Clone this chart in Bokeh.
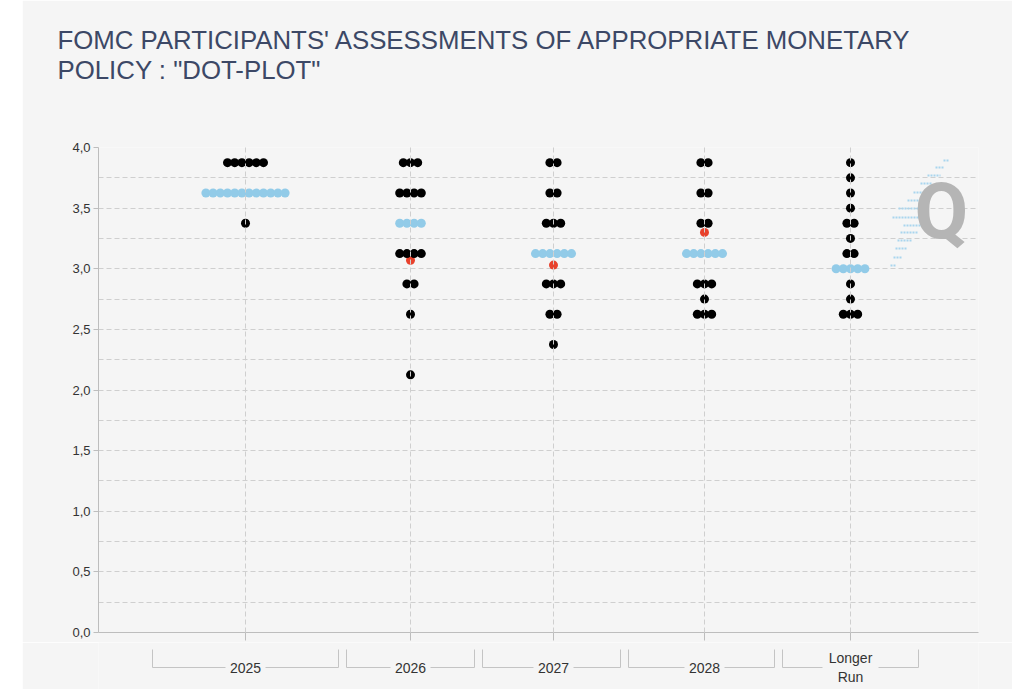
from bokeh.plotting import figure
from bokeh.models import Range1d, FixedTicker, Title, ColumnDataSource, Spacer, Label
from bokeh.layouts import column, row
from bokeh.embed import file_html
from bokeh.resources import INLINE
from bokeh.core.properties import value

# ---------------- data ----------------
categories = ["2025", "2026", "2027", "2028", "Longer\nRun"]

levels_2025 = [3.875, 3.625, 3.375]
counts_2025 = [6, 12, 1]
levels_2026 = [3.875, 3.625, 3.375, 3.125, 2.875, 2.625, 2.125]
counts_2026 = [3, 4, 4, 4, 2, 1, 1]
levels_2027 = [3.875, 3.625, 3.375, 3.125, 2.875, 2.625, 2.375]
counts_2027 = [2, 2, 3, 6, 3, 2, 1]
levels_2028 = [3.875, 3.625, 3.375, 3.125, 2.875, 2.75, 2.625]
counts_2028 = [2, 2, 2, 6, 3, 1, 3]
levels_lr = [3.875, 3.75, 3.625, 3.5, 3.375, 3.25, 3.125, 3.0, 2.875, 2.75, 2.625]
counts_lr = [1, 1, 1, 1, 2, 1, 2, 5, 1, 1, 3]

medians = [3.625, 3.375, 3.125, 3.125, 3.0]

market_index = [1, 2, 3]          # 2026, 2027, 2028
market_values = [3.07, 3.03, 3.30]

y_ticks = [0.0, 0.5, 1.0, 1.5, 2.0, 2.5, 3.0, 3.5, 4.0]
y_grid = [0.25, 0.5, 0.75, 1.0, 1.25, 1.5, 1.75, 2.0, 2.25, 2.5, 2.75,
          3.0, 3.25, 3.5, 3.75, 4.0]

title_line1 = "FOMC PARTICIPANTS' ASSESSMENTS OF APPROPRIATE MONETARY"
title_line2 = 'POLICY : "DOT-PLOT"'

# ---------------- layout / style ----------------
CAT_CENTER = [147, 312, 455, 606, 752]      # frame-pixel positions
BRACKET_LEFT = [54, 248, 384, 530, 684]
BRACKET_RIGHT = [240, 376, 522, 676, 820]
BRACKET_GAP = [20, 20, 20, 20, 28]
DOT_STEP = 7.2
BG = "#f5f5f5"
GRID = "#cfcfcf"
AXIS = "#bdbdbd"
FONT = "Liberation Sans"

all_levels = [levels_2025, levels_2026, levels_2027, levels_2028, levels_lr]
all_counts = [counts_2025, counts_2026, counts_2027, counts_2028, counts_lr]

dx, dy, dc = [], [], []
for i, (lv, ct) in enumerate(zip(all_levels, all_counts)):
    for level, n in zip(lv, ct):
        for k in range(n):
            dx.append(CAT_CENTER[i] + (k - (n - 1) / 2) * DOT_STEP)
            dy.append(level)
            dc.append("#92cbe8" if level == medians[i] else "#000000")
dots = ColumnDataSource(dict(x=dx, y=dy, c=dc))
market = ColumnDataSource(dict(x=[CAT_CENTER[i] for i in market_index], y=market_values))

FRAME_W = 880
p = figure(width=990, height=642, output_backend="svg", toolbar_location=None,
           x_range=Range1d(0, FRAME_W), y_range=Range1d(0, 4.0),
           min_border_left=76, min_border_right=34, min_border_top=147,
           min_border_bottom=10)
p.background_fill_color = BG
p.border_fill_color = BG
p.outline_line_color = None

# spacer between title and plot area
gap = Title(text=" ", text_font_size="1px", standoff=59)
title = Title(text=title_line1 + "\n" + title_line2, align="left", offset=-41,
              standoff=0, vertical_align="top", text_font=FONT,
              text_font_size="25.8px", text_font_style="normal",
              text_color="#3c4866", text_line_height=1.08)
p.add_layout(gap, "above")
p.add_layout(title, "above")

# y axis
p.yaxis.ticker = FixedTicker(ticks=y_ticks)
p.yaxis.major_label_overrides = {t: f"{t:.1f}".replace(".", ",") for t in y_ticks}
p.yaxis.axis_line_color = AXIS
p.yaxis.major_tick_line_color = AXIS
p.yaxis.major_tick_out = 5
p.yaxis.major_tick_in = 0
p.yaxis.minor_tick_line_color = None
p.yaxis.major_label_standoff = 3
p.yaxis.major_label_text_font = FONT
p.yaxis.major_label_text_font_size = "13px"
p.yaxis.major_label_text_color = "#333333"

# x axis (ticks only)
p.xaxis.ticker = FixedTicker(ticks=CAT_CENTER)
p.xaxis.major_label_overrides = {c: "" for c in CAT_CENTER}
p.xaxis.major_label_text_font_size = "0px"
p.xaxis.major_label_standoff = 0
p.xaxis.axis_line_color = AXIS
p.xaxis.major_tick_line_color = AXIS
p.xaxis.major_tick_out = 8
p.xaxis.major_tick_in = 0
p.xaxis.minor_tick_line_color = None

p.ygrid.ticker = FixedTicker(ticks=y_grid)
p.ygrid.grid_line_color = GRID
p.ygrid.grid_line_dash = "5 3"
p.xgrid.grid_line_color = GRID
p.xgrid.grid_line_dash = "5 3"
p.xgrid.level = "overlay"

# logo (decoration)
LOGO_STREAKS = [(160, 943, 948), (167, 935, 943), (175, 927, 940), (183, 920, 932),
                (192, 913, 926), (200, 907, 924), (208, 898, 922), (217, 892, 922),
                (225, 903, 922), (232, 900, 918), (240, 897, 912), (248, 895, 907),
                (257, 893, 902), (265, 890, 895)]
to_y = lambda py: 4.0 - (py - 147) / 121.25
p.segment(x0=[s[1] - 98 for s in LOGO_STREAKS], x1=[s[2] - 98 for s in LOGO_STREAKS],
          y0=[to_y(s[0]) for s in LOGO_STREAKS], y1=[to_y(s[0]) for s in LOGO_STREAKS],
          line_color="#a9d5ee", line_width=2, line_dash="2 1")
p.add_layout(Label(x=843, y=to_y(211), text="Q", text_font="Roboto", text_font_size="78px",
                   text_font_style="bold", text_color="#b5b5b5", text_align="center",
                   text_baseline="middle"))

p.scatter("x", "y", source=market, size=9, marker="circle",
          fill_color="#e8412c", line_color=None)
p.scatter("x", "y", source=dots, size=9, marker="circle",
          fill_color="c", line_color=None)

# ---------------- category brackets ----------------
p2 = figure(width=990, height=47, output_backend="svg", toolbar_location=None,
            x_range=p.x_range, y_range=Range1d(47, 0),
            min_border_left=76, min_border_right=34, min_border_top=0,
            min_border_bottom=0)
p2.background_fill_color = BG
p2.border_fill_color = BG
p2.outline_line_color = None
p2.axis.visible = False
p2.grid.visible = False

bx0, bx1, by0, by1 = [], [], [], []
for c, l, r, g in zip(CAT_CENTER, BRACKET_LEFT, BRACKET_RIGHT, BRACKET_GAP):
    bx0 += [l, r, l, c + g]
    bx1 += [l, r, c - g, r]
    by0 += [7, 7, 25, 25]
    by1 += [25, 25, 25, 25]
p2.segment(x0=bx0, x1=bx1, y0=by0, y1=by1, line_color="#c4c4c4", line_width=1)
p2.text(x=CAT_CENTER, y=[25] * len(CAT_CENTER), text=categories,
        text_align="center", text_baseline="middle", text_font=value(FONT),
        text_font_size="14px", text_color="#333333", text_line_height=1.15)

layout = row(Spacer(width=22, height=689), column(p, p2))
open("out.html", "w").write(file_html(layout, INLINE))
